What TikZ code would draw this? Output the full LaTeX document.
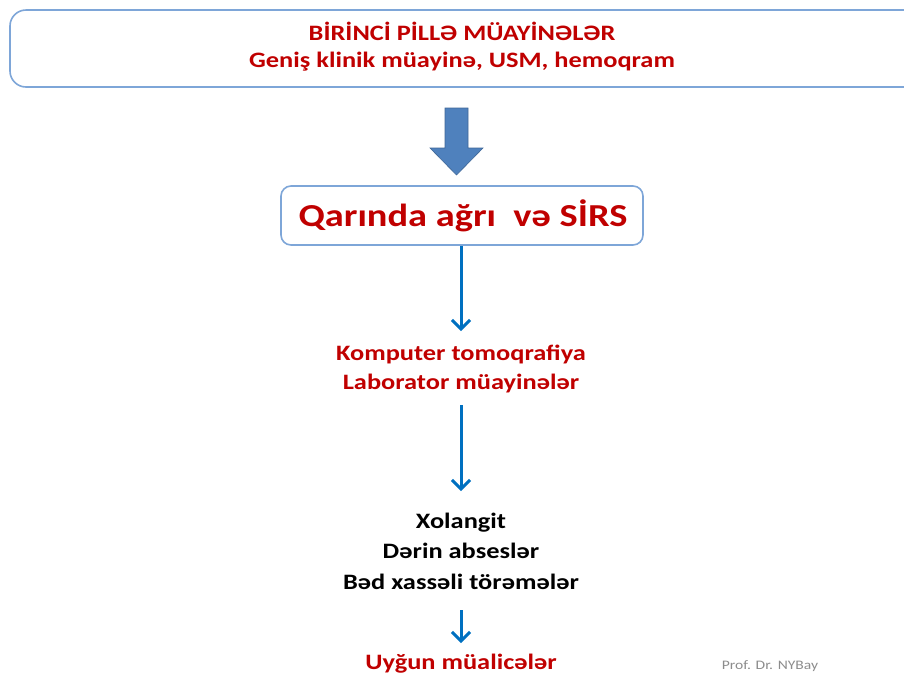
\documentclass[tikz,border=0pt]{standalone}
\usepackage{fontspec}
\setmainfont[FakeStretch=1.2]{Carlito}
\usetikzlibrary{arrows.meta}
\definecolor{dred}{HTML}{C00000}
\definecolor{lblue}{HTML}{7EA6D8}
\definecolor{ablue}{HTML}{4F81BD}
\definecolor{tblue}{HTML}{0070C0}
\tikzset{
  box/.style={draw=lblue, line width=1.6pt, fill=white, rounded corners=#1},
  thinarrow/.style={draw=tblue, line width=3pt, -{Straight Barb[length=9pt,width=18pt,line width=3pt]}},
  redtxt/.style={text=dred, font=\bfseries\fontsize{22}{29}\selectfont, align=center, inner sep=0pt},
  blktxt/.style={text=black, font=\bfseries\fontsize{22}{30.5}\selectfont, align=center, inner sep=0pt}
}
\begin{document}
\begin{tikzpicture}[x=1pt,y=-1pt]
\useasboundingbox (0,0) rectangle (904,681);
% top box
\draw[box=16] (10,10) rectangle (930,87);
\node[redtxt] (t1) at (462,31) {BİRİNCİ PİLLƏ MÜAYİNƏLƏR};
\node[redtxt] (t2) at (462,62) {Geniş klinik müayinə, USM, hemoqram};
% block arrow
\fill[ablue, draw=ablue!80!black, line width=0.6pt]
  (445,108) -- (468,108) -- (468,148) -- (483,148) -- (456.5,175) -- (430,148) -- (445,148) -- cycle;
% second box
\draw[box=10] (281,186) rectangle (643,245);
\node[text=dred, font=\bfseries\fontsize{32}{38}\selectfont, inner sep=0pt] (q) at (463,216) {Qarında ağrı\ \ və SİRS};
% texts
\node[redtxt] (k) at (461,369) {Komputer tomoqrafiya\\Laborator müayinələr};
\node[blktxt] (x) at (461,551) {Xolangit\\Dərin abseslər\\Bəd xassəli törəmələr};
\node[redtxt] (u) at (461,664) {Uyğun müalicələr};
\node[text=gray!90, font=\fontsize{13}{15}\selectfont, inner sep=0pt] (p) at (770,666) {Prof. Dr. NYBay};
% connectors
\coordinate (a1s) at (461,246);
\coordinate (a1e) at (461,331);
\coordinate (a2s) at (461,405);
\coordinate (a2e) at (461,491);
\coordinate (a3s) at (461,610);
\coordinate (a3e) at (461,643);
\draw[thinarrow] (a1s) -- (a1e);
\draw[thinarrow] (a2s) -- (a2e);
\draw[thinarrow] (a3s) -- (a3e);
\end{tikzpicture}
\end{document}
